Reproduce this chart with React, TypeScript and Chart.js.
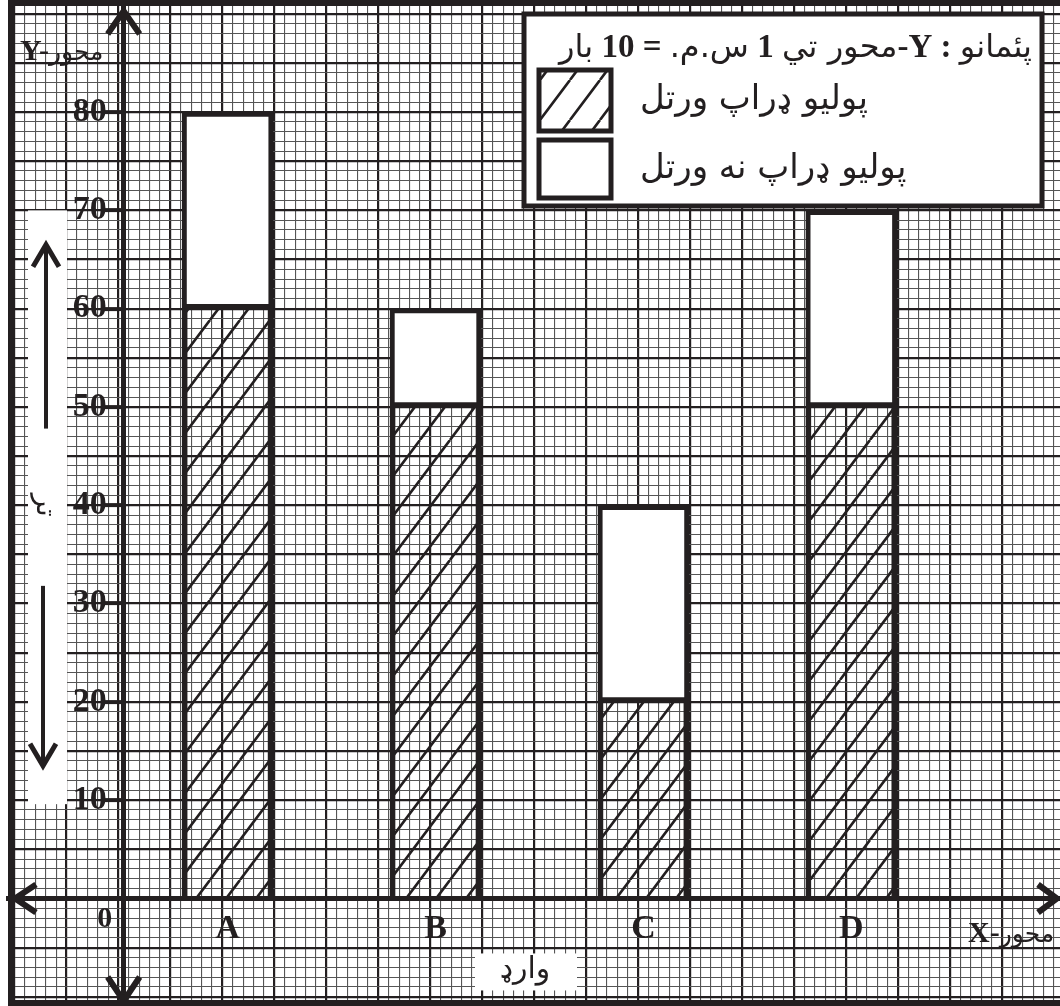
import React, { useEffect, useRef } from 'react';
import { Chart, registerables } from 'chart.js';

Chart.register(...registerables);

// ---------------- data ----------------
const categories = ['A', 'B', 'C', 'D'];
const categorySlots = [10, 30, 50, 70]; // positions of the wards on the graph-paper x axis
const dropsGiven = [60, 50, 20, 50];
const dropsNotGiven = [20, 10, 20, 20];
const yTickValues = [10, 20, 30, 40, 50, 60, 70, 80];
const seriesLabels = ['پولیو ډراپ ورتل', 'پولیو ډراپ نه ورتل'];
const originLabel = '0';
const xAxisCaption = 'وارډ';
const axisWord = 'محور';
const yAxisCaption = 'تر';
const scaleHead = 'پئمانو';
const scaleAxisPhrase = 'محور تي';
const scaleUnit = 'س.م.';
const scaleTimes = 'بار';
const scaleCm = '1';
const scaleCount = '10';

// ---------------- styles ----------------
const INK = '#231f20';
const MINOR = '#555555';
const SERIF = '"Liberation Serif", "DejaVu Serif", serif';
const ARABIC = '"DejaVu Sans", sans-serif';
const X_MIN = -10.62;
const X_MAX = 89.57;
const Y_MIN = -10.94;
const Y_MAX = 91.4;

function makeHatch(): CanvasPattern | string {
  const c = document.createElement('canvas');
  c.width = 30;
  c.height = 40;
  const g = c.getContext('2d');
  if (!g) return 'rgba(0,0,0,0)';
  g.strokeStyle = INK;
  g.lineWidth = 2.6;
  g.beginPath();
  for (let k = -1; k <= 1; k++) {
    g.moveTo(k * 30, 40);
    g.lineTo(k * 30 + 30, 0);
  }
  g.stroke();
  return g.createPattern(c, 'repeat') || 'rgba(0,0,0,0)';
}

type Seg = { t: string; f: string; rtl?: boolean };
function drawSegs(ctx: CanvasRenderingContext2D, segs: Seg[], x: number, y: number, align: 'left' | 'right') {
  ctx.save();
  ctx.textBaseline = 'alphabetic';
  ctx.textAlign = 'left';
  ctx.fillStyle = INK;
  const widths = segs.map((s) => {
    ctx.font = s.f;
    (ctx as any).direction = s.rtl ? 'rtl' : 'ltr';
    return ctx.measureText(s.t).width;
  });
  const total = widths.reduce((a, b) => a + b, 0);
  let cx = align === 'left' ? x : x - total;
  segs.forEach((s, i) => {
    ctx.font = s.f;
    (ctx as any).direction = s.rtl ? 'rtl' : 'ltr';
    ctx.fillText(s.t, cx, y);
    cx += widths[i];
  });
  ctx.restore();
}

function polyline(ctx: CanvasRenderingContext2D, pts: number[][], width: number) {
  ctx.save();
  ctx.strokeStyle = INK;
  ctx.lineWidth = width;
  ctx.lineJoin = 'miter';
  ctx.lineCap = 'butt';
  ctx.beginPath();
  pts.forEach((p, i) => (i === 0 ? ctx.moveTo(p[0], p[1]) : ctx.lineTo(p[0], p[1])));
  ctx.stroke();
  ctx.restore();
}

const isMajor = (c: any) => Math.round(c?.tick?.value ?? 1) % 5 === 0;
const gridColor = (c: any) => (isMajor(c) ? INK : MINOR);
const gridWidth = (c: any) => (isMajor(c) ? 2.2 : 1.1);
const zeroPad = (s: any) => {
  s.paddingLeft = 0;
  s.paddingRight = 0;
  s.paddingTop = 0;
  s.paddingBottom = 0;
};

export default function App() {
  const ref = useRef<HTMLCanvasElement>(null);
  useEffect(() => {
    document.body.style.margin = '0';
    const canvas = ref.current;
    if (!canvas) return;
    const hatch = makeHatch();

    const paperPlugin = {
      id: 'paper',
      beforeDraw(chart: any) {
        const ctx = chart.ctx;
        ctx.save();
        ctx.fillStyle = '#ffffff';
        ctx.fillRect(0, 0, chart.width, chart.height);
        ctx.restore();
      },
      afterDraw(chart: any) {
        const ctx: CanvasRenderingContext2D = chart.ctx;
        const xs = chart.scales.x;
        const ys = chart.scales.y;
        const a = chart.chartArea;
        const ox = xs.getPixelForValue(0);
        const oy = ys.getPixelForValue(0);

        // white strip with y caption and arrows
        const sTop = ys.getPixelForValue(70);
        const sBot = ys.getPixelForValue(10) + 4;
        ctx.save();
        ctx.fillStyle = '#ffffff';
        ctx.fillRect(a.left + 20, sTop, 39, sBot - sTop);
        ctx.restore();
        const sx = a.left + 38;
        const up1 = ys.getPixelForValue(66.5);
        const up2 = ys.getPixelForValue(47.8);
        polyline(ctx, [[sx, up1 + 2], [sx, up2]], 4);
        polyline(ctx, [[sx - 13, up1 + 22], [sx, up1], [sx + 13, up1 + 22]], 5);
        const dn1 = ys.getPixelForValue(31.8);
        const dn2 = ys.getPixelForValue(13.5);
        polyline(ctx, [[sx - 3, dn1], [sx - 3, dn2 - 2]], 4);
        polyline(ctx, [[sx - 16, dn2 - 22], [sx - 3, dn2], [sx + 10, dn2 - 22]], 5);
        ctx.save();
        ctx.translate(sx - 2, ys.getPixelForValue(40));
        ctx.rotate(Math.PI / 2);
        ctx.fillStyle = INK;
        ctx.font = '28px ' + ARABIC;
        ctx.textAlign = 'center';
        ctx.textBaseline = 'middle';
        (ctx as any).direction = 'rtl';
        ctx.fillText(yAxisCaption, 0, 0);
        ctx.restore();

        // x caption box
        const bx = (a.left + a.right) / 2 - 9;
        ctx.save();
        ctx.fillStyle = '#ffffff';
        ctx.fillRect(bx - 50, oy + 55, 102, 37);
        ctx.fillStyle = INK;
        ctx.font = '30px ' + ARABIC;
        ctx.textAlign = 'center';
        ctx.textBaseline = 'middle';
        (ctx as any).direction = 'rtl';
        ctx.fillText(xAxisCaption, bx, oy + 72);
        ctx.restore();

        // origin label
        ctx.save();
        ctx.fillStyle = INK;
        ctx.font = 'bold 30px ' + SERIF;
        ctx.textAlign = 'center';
        ctx.textBaseline = 'middle';
        ctx.fillText(originLabel, ox - 19, oy + 21);
        ctx.restore();

        // axis names
        drawSegs(ctx, [
          { t: 'Y-', f: 'bold 30px ' + SERIF },
          { t: axisWord, f: '25px ' + ARABIC, rtl: true },
        ], a.left + 12, 60, 'left');
        drawSegs(ctx, [
          { t: 'X-', f: 'bold 30px ' + SERIF },
          { t: axisWord, f: '25px ' + ARABIC, rtl: true },
        ], a.right - 92, oy + 44, 'left');

        // axis arrowheads
        polyline(ctx, [[ox - 16, a.top + 34], [ox, a.top + 11], [ox + 16, a.top + 34]], 6);
        polyline(ctx, [[ox - 16, a.bottom - 29], [ox, a.bottom - 5], [ox + 16, a.bottom - 29]], 6);
        polyline(ctx, [[a.left + 28, oy - 14], [a.left + 7, oy], [a.left + 28, oy + 14]], 6);
        polyline(ctx, [[a.right - 22, oy - 14], [a.right - 3, oy], [a.right - 22, oy + 14]], 6);

        // frame
        ctx.save();
        ctx.strokeStyle = INK;
        ctx.lineWidth = 7;
        ctx.beginPath();
        ctx.moveTo(a.left + 3.5, a.top);
        ctx.lineTo(a.left + 3.5, a.bottom);
        ctx.stroke();
        ctx.lineWidth = 6;
        ctx.beginPath();
        ctx.moveTo(a.left, a.top + 3);
        ctx.lineTo(a.right, a.top + 3);
        ctx.moveTo(a.left, a.bottom - 3);
        ctx.lineTo(a.right, a.bottom - 3);
        ctx.stroke();
        ctx.restore();

        // legend box
        const lx = a.right - 536;
        const lw = 518;
        const ly = a.top + 14;
        const lh = 192;
        ctx.save();
        ctx.fillStyle = '#ffffff';
        ctx.fillRect(lx, ly, lw, lh);
        ctx.strokeStyle = INK;
        ctx.lineWidth = 5;
        ctx.strokeRect(lx, ly, lw, lh);
        ctx.restore();

        const B = 'bold 33px ' + SERIF;
        const R = '32px ' + ARABIC;
        drawSegs(ctx, [
          { t: scaleTimes, f: R, rtl: true },
          { t: ' ' + scaleCount + ' ', f: B },
          { t: '= ', f: B },
          { t: scaleUnit, f: R, rtl: true },
          { t: ' ' + scaleCm + ' ', f: B },
          { t: scaleAxisPhrase, f: R, rtl: true },
          { t: '-Y', f: B },
          { t: ' : ', f: B },
          { t: scaleHead, f: R, rtl: true },
        ], lx + lw - 10, ly + 43, 'right');

        const ds = chart.data.datasets;
        const rows = [
          { y: ly + 56, h: 61, fill: hatch },
          { y: ly + 126, h: 58, fill: '#ffffff' },
        ];
        rows.forEach((r, i) => {
          ctx.save();
          ctx.fillStyle = '#ffffff';
          ctx.fillRect(lx + 15, r.y, 72, r.h);
          ctx.fillStyle = r.fill as any;
          ctx.fillRect(lx + 15, r.y, 72, r.h);
          ctx.strokeStyle = INK;
          ctx.lineWidth = 5;
          ctx.strokeRect(lx + 15, r.y, 72, r.h);
          ctx.fillStyle = INK;
          ctx.font = '34px ' + ARABIC;
          ctx.textAlign = 'left';
          ctx.textBaseline = 'middle';
          (ctx as any).direction = 'rtl';
          ctx.fillText(ds[i].label, lx + 116, r.y + r.h / 2);
          ctx.restore();
        });
      },
    };

    const chart = new Chart(canvas, {
      type: 'bar',
      data: {
        datasets: [
          {
            label: seriesLabels[0],
            data: categorySlots.map((x, i) => ({ x, y: dropsGiven[i] })),
            backgroundColor: hatch as any,
            borderColor: INK,
            borderWidth: { left: 5, right: 5, top: 0, bottom: 0 },
            borderSkipped: false,
            barThickness: 91,
          },
          {
            label: seriesLabels[1],
            data: categorySlots.map((x, i) => ({ x, y: dropsNotGiven[i] })),
            backgroundColor: '#ffffff',
            borderColor: INK,
            borderWidth: 5,
            borderSkipped: false,
            barThickness: 91,
          },
        ],
      },
      options: {
        responsive: false,
        animation: false,
        layout: { padding: { left: 8, top: 0, right: 0, bottom: 0 } },
        plugins: {
          legend: { display: false },
          tooltip: { enabled: false },
          title: { display: false },
        },
        scales: {
          x: {
            type: 'linear',
            stacked: true,
            min: X_MIN,
            max: X_MAX,
            position: { y: 0 } as any,
            afterFit: zeroPad,
            ticks: {
              stepSize: 1,
              autoSkip: false,
              includeBounds: false,
              maxRotation: 0,
              minRotation: 0,
              padding: 10,
              color: INK,
              font: { family: SERIF, size: 34, weight: 'bold' },
              callback: (v: any) => {
                const i = categorySlots.indexOf(Math.round(Number(v)));
                return i >= 0 ? categories[i] : '';
              },
            },
            grid: { color: gridColor, lineWidth: gridWidth, drawTicks: false },
            border: { display: true, color: INK, width: 5, z: 1 },
          },
          y: {
            type: 'linear',
            stacked: true,
            min: Y_MIN,
            max: Y_MAX,
            position: { x: 0 } as any,
            afterFit: zeroPad,
            ticks: {
              stepSize: 1,
              autoSkip: false,
              includeBounds: false,
              padding: 2,
              color: INK,
              font: { family: SERIF, size: 34, weight: 'bold' },
              callback: (v: any) => {
                const n = Math.round(Number(v));
                return yTickValues.includes(n) ? String(n) + '  ' : '';
              },
            },
            grid: {
              color: gridColor,
              lineWidth: gridWidth,
              drawTicks: true,
              tickLength: 16,
              tickWidth: (c: any) => (yTickValues.includes(Math.round(c?.tick?.value ?? -1)) ? 4 : 0),
              tickColor: (c: any) => (yTickValues.includes(Math.round(c?.tick?.value ?? -1)) ? INK : 'rgba(0,0,0,0)'),
            },
            border: { display: true, color: INK, width: 5, z: 1 },
          },
        },
      } as any,
      plugins: [paperPlugin],
    });
    return () => chart.destroy();
  }, []);

  return (
    <div style={{ width: 1060, height: 1006 }}>
      <canvas ref={ref} width={1060} height={1006} style={{ display: 'block' }} />
    </div>
  );
}
